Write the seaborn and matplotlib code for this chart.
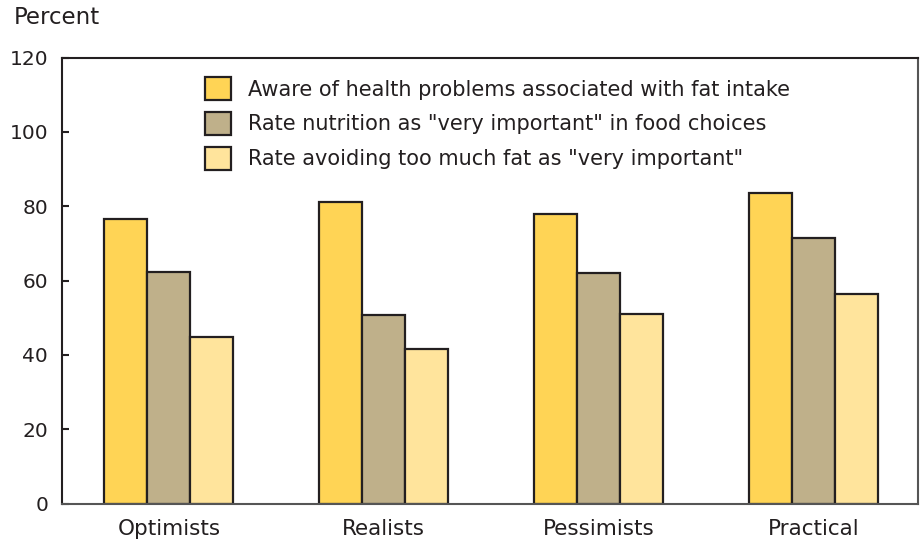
import matplotlib
matplotlib.use("Agg")
import matplotlib.pyplot as plt
import matplotlib.patches as mpatches
import seaborn as sns
import pandas as pd

# Data (percent of each consumer group)
groups = ["Optimists", "Realists", "Pessimists", "Practical"]
series = [
    "Aware of health problems associated with fat intake",
    "Rate nutrition as \"very important\" in food choices",
    "Rate avoiding too much fat as \"very important\"",
]
aware = [76.5, 81.2, 78.0, 83.6]
nutrition = [62.4, 50.7, 62.1, 71.4]
avoid_fat = [44.9, 41.6, 50.9, 56.5]
y_ticks = [0, 20, 40, 60, 80, 100, 120]

colors = ["#FFD455", "#BFB08A", "#FFE49C"]
edge = "#231F20"

rows = []
for name, vals in zip(series, [aware, nutrition, avoid_fat]):
    for g, v in zip(groups, vals):
        rows.append({"group": g, "series": name, "value": v})
df = pd.DataFrame(rows)

sns.set_theme(style="white")
plt.rcParams["font.family"] = ["DejaVu Sans"]

fig = plt.figure(figsize=(9.24, 5.43), dpi=100)
ax = fig.add_axes([62 / 924, 1 - 503.5 / 543, 856 / 924, 446 / 543])

sns.barplot(
    data=df, x="group", y="value", hue="series", order=groups,
    hue_order=series, palette=colors, saturation=1, width=0.6,
    edgecolor=edge, linewidth=1.6, ax=ax, legend=False,
)

ax.set_xlim(-0.497, 3.485)
ax.set_ylim(0, 120)
ax.set_yticks(y_ticks)
ax.set_yticklabels([str(t) for t in y_ticks])
ax.set_xlabel("")
ax.set_ylabel("")

for side in ["left", "top", "right", "bottom"]:
    ax.spines[side].set_visible(True)
    ax.spines[side].set_linewidth(1.5)
ax.spines["left"].set_color("#231F20")
ax.spines["top"].set_color("#231F20")
ax.spines["right"].set_color("#555555")
ax.spines["bottom"].set_color("#555555")

ax.tick_params(axis="y", direction="in", length=5, width=1.5, color="#231F20",
               labelsize=14.5, pad=10, labelcolor="#231F20", left=True)
ax.tick_params(axis="x", length=0, labelsize=15.5, pad=11, labelcolor="#231F20")

fig.text(14 / 924, 1 - 17 / 543, "Percent", fontsize=16.5, color="#231F20",
         ha="left", va="center")

handles = [mpatches.Patch(facecolor=c, edgecolor=edge, linewidth=1.6) for c in colors]
fs = 15
ax.legend(
    handles, series, loc="upper left",
    bbox_to_anchor=(205 / 924, 1 - 77 / 543), bbox_transform=fig.transFigure,
    frameon=False, fontsize=fs, handlelength=1.25, handleheight=1.35,
    handletextpad=0.8, labelspacing=0.55, borderpad=0, borderaxespad=0,
    labelcolor="#231F20",
)

fig.savefig("out.png", dpi=100)
